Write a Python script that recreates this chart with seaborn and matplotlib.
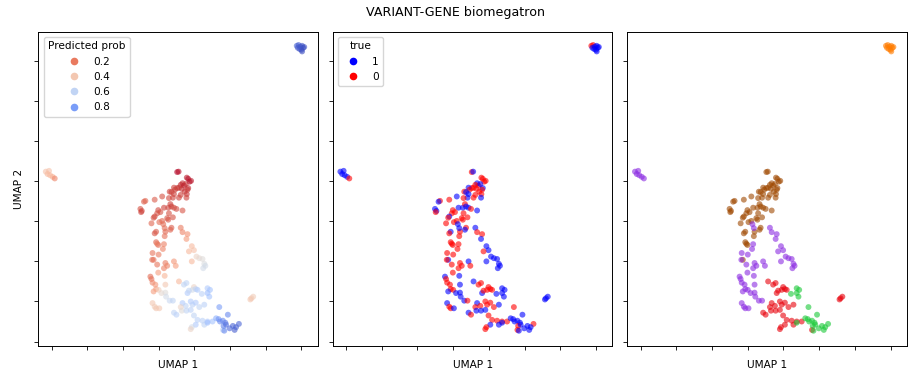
import matplotlib
matplotlib.use("Agg")
import matplotlib.pyplot as plt
import seaborn as sns
import pandas as pd

# ---- data: (umap1, umap2, predicted prob, true label) per cluster ----
cluster_brown = [
    (3.52, 4.23, 0.03, 0), (3.56, 4.24, 0.04, 1), (3.79, 4.09, 0.05, 0), (3.83, 4.06, 0.04, 0),
    (3.87, 3.99, 0.03, 0), (3.91, 4.01, 0.05, 0), (3.67, 3.95, 0.07, 1), (3.62, 3.91, 0.06, 0),
    (3.71, 3.89, 0.05, 0), (3.76, 3.93, 0.07, 1), (3.83, 3.83, 0.06, 1), (3.81, 3.79, 0.08, 0),
    (3.73, 3.74, 0.08, 0), (3.79, 3.68, 0.08, 0), (3.78, 3.59, 0.10, 1), (3.65, 3.81, 0.07, 0),
    (3.57, 3.84, 0.08, 0), (3.52, 3.83, 0.08, 0), (3.43, 3.84, 0.09, 1), (3.46, 3.79, 0.09, 0),
    (3.31, 3.74, 0.10, 0), (3.36, 3.73, 0.09, 1), (3.43, 3.68, 0.10, 1), (3.62, 3.66, 0.09, 0),
    (3.57, 3.59, 0.10, 0), (3.40, 3.59, 0.10, 1), (3.29, 3.58, 0.11, 0), (3.10, 3.62, 0.12, 1),
    (2.89, 3.54, 0.14, 0), (2.63, 3.51, 0.16, 0), (2.59, 3.49, 0.15, 1), (2.49, 3.31, 0.12, 1),
    (2.53, 3.26, 0.11, 1), (2.51, 3.23, 0.10, 0), (2.99, 3.28, 0.11, 0), (3.15, 3.34, 0.10, 1),
    (3.27, 3.34, 0.10, 1), (3.33, 3.43, 0.10, 0), (3.36, 3.37, 0.09, 1), (3.43, 3.34, 0.11, 1),
    (3.50, 3.31, 0.11, 0), (3.67, 3.27, 0.13, 1), (3.05, 3.23, 0.12, 0), (2.96, 3.20, 0.13, 0),
    (2.89, 3.12, 0.11, 1), (2.86, 3.09, 0.12, 0), (3.29, 3.20, 0.12, 0), (3.40, 3.10, 0.12, 0),
    (3.24, 3.08, 0.13, 0), (3.27, 3.04, 0.13, 0), (3.10, 3.01, 0.16, 0), (3.02, 2.98, 0.17, 0),
    (2.80, 2.95, 0.16, 0), (3.36, 2.84, 0.14, 0), (3.33, 2.79, 0.15, 1), (3.19, 2.74, 0.16, 0),
    (2.93, 2.74, 0.14, 1), (2.89, 2.70, 0.13, 0), (3.17, 2.63, 0.18, 0), (2.93, 2.48, 0.16, 0),
    (2.99, 2.41, 0.18, 0), (2.96, 2.44, 0.20, 0), (2.86, 2.04, 0.18, 1),
]
cluster_purple = [
    (3.13, 2.93, 0.17, 1), (3.17, 2.83, 0.17, 1), (3.62, 2.84, 0.20, 1), (3.67, 2.73, 0.22, 0),
    (3.81, 2.68, 0.25, 0), (3.78, 2.56, 0.27, 1), (3.93, 2.38, 0.36, 1), (3.99, 2.28, 0.38, 1),
    (3.15, 2.43, 0.21, 0), (3.12, 2.31, 0.22, 0), (2.83, 2.21, 0.19, 0), (3.00, 2.17, 0.20, 0),
    (3.85, 2.25, 0.35, 0), (4.06, 2.12, 0.45, 1), (4.14, 2.08, 0.48, 1), (4.23, 2.06, 0.50, 1),
    (4.28, 1.94, 0.52, 1), (4.31, 1.89, 0.55, 1), (4.25, 1.83, 0.55, 1), (3.93, 2.00, 0.35, 1),
    (2.82, 2.04, 0.18, 0), (2.96, 1.92, 0.19, 0), (3.19, 1.96, 0.20, 0), (3.24, 1.89, 0.22, 0),
    (3.43, 2.00, 0.26, 1), (3.48, 1.89, 0.28, 0), (3.15, 1.83, 0.22, 0), (2.77, 1.62, 0.17, 1),
    (2.80, 1.56, 0.18, 0), (2.83, 1.47, 0.23, 0), (2.91, 1.42, 0.26, 0), (3.19, 1.42, 0.40, 1),
    (2.99, 1.72, 0.28, 0), (3.17, 1.64, 0.34, 1), (2.93, 1.31, 0.28, 0), (2.86, 1.25, 0.28, 1),
    (3.00, 1.29, 0.42, 0), (3.08, 1.21, 0.48, 1), (3.19, 1.22, 0.50, 1), (3.21, 1.12, 0.55, 1),
    (3.31, 1.02, 0.58, 1), (3.40, 1.02, 0.60, 0), (2.83, 0.96, 0.40, 1), (2.89, 0.87, 0.42, 0),
    (2.93, 0.83, 0.40, 0), (3.02, 0.83, 0.40, 1),
    (-0.16, 4.24, 0.38, 1), (-0.07, 4.26, 0.38, 1), (-0.11, 4.18, 0.36, 1), (-0.04, 4.15, 0.35, 1),
    (0.03, 4.11, 0.33, 1), (0.09, 4.07, 0.22, 0),
]
cluster_red = [
    (3.57, 1.50, 0.35, 1), (3.71, 1.42, 0.60, 0), (3.78, 1.46, 0.60, 0), (3.99, 1.36, 0.45, 0),
    (3.95, 1.29, 0.55, 0), (4.04, 1.31, 0.60, 0), (3.81, 1.21, 0.65, 1), (3.85, 1.27, 0.60, 0),
    (4.09, 1.29, 0.65, 0), (3.67, 0.96, 0.65, 1), (3.76, 0.89, 0.60, 0), (3.90, 1.00, 0.65, 0),
    (3.95, 0.92, 0.62, 0), (4.04, 0.97, 0.65, 0), (3.62, 0.86, 0.45, 0), (3.65, 0.77, 0.50, 1),
    (3.78, 0.77, 0.60, 1), (3.90, 0.79, 0.62, 1), (4.14, 0.86, 0.60, 0), (4.28, 0.92, 0.62, 1),
    (3.43, 0.72, 0.60, 1), (3.50, 0.67, 0.62, 0), (3.99, 0.65, 0.60, 0), (4.09, 0.54, 0.62, 0),
    (4.23, 0.52, 0.62, 0), (4.37, 0.50, 0.65, 0), (4.51, 0.50, 0.68, 0), (4.28, 0.42, 0.60, 1),
    (4.04, 0.42, 0.65, 1), (3.93, 0.36, 0.55, 0), (3.90, 0.31, 0.45, 0), (4.80, 0.29, 0.60, 0),
    (5.60, 1.08, 0.40, 1), (5.65, 1.12, 0.42, 1), (5.57, 1.05, 0.40, 1),
]
cluster_green = [
    (4.37, 1.33, 0.65, 1), (4.44, 1.29, 0.68, 1), (4.37, 1.21, 0.70, 1), (4.42, 1.12, 0.68, 1),
    (4.21, 1.19, 0.62, 1), (4.70, 0.86, 0.80, 0), (4.61, 0.58, 0.75, 1), (4.68, 0.56, 0.82, 1),
    (4.72, 0.50, 0.85, 1), (4.80, 0.52, 0.85, 1), (4.87, 0.47, 0.88, 1), (4.82, 0.39, 0.86, 0),
    (4.94, 0.67, 0.85, 1), (4.89, 0.42, 0.90, 1), (4.99, 0.33, 0.92, 1), (5.08, 0.39, 0.93, 1),
    (5.13, 0.29, 0.95, 1), (5.25, 0.44, 0.93, 0), (5.17, 0.36, 0.94, 1), (4.84, 0.27, 0.85, 1),
    (4.37, 0.47, 0.70, 1),
]
cluster_orange = [
    (6.87, 7.38, 0.93, 0), (6.92, 7.40, 0.95, 0), (6.97, 7.36, 0.96, 1), (7.02, 7.38, 0.97, 1),
    (7.05, 7.33, 0.98, 1), (6.95, 7.30, 0.96, 1), (7.00, 7.28, 0.97, 1), (7.08, 7.35, 0.98, 1),
    (6.90, 7.33, 0.96, 1), (7.02, 7.24, 0.99, 1),
]

cluster_colors = {
    "brown": "#9f4800", "purple": "#8b2be2", "red": "#e8000b",
    "green": "#1ac938", "orange": "#ff7c00",
}
true_colors = {"1": "blue", "0": "red"}

groups = {"brown": cluster_brown, "purple": cluster_purple, "red": cluster_red,
          "green": cluster_green, "orange": cluster_orange}
rows = []
for name, pts in groups.items():
    for (ux, uy, p, t) in pts:
        rows.append({"UMAP 1": ux, "UMAP 2": uy, "prob": p, "true": str(t), "cluster": name})
df = pd.DataFrame(rows)

plt.rcParams["font.size"] = 7.6
plt.rcParams["axes.linewidth"] = 0.7
plt.rcParams["xtick.major.size"] = 2.7
plt.rcParams["ytick.major.size"] = 2.7
plt.rcParams["xtick.major.width"] = 0.6
plt.rcParams["ytick.major.width"] = 0.6

fig, axes = plt.subplots(1, 3, figsize=(9.12, 3.74), dpi=100)
fig.subplots_adjust(left=0.042, right=0.9945, bottom=0.075, top=0.915, wspace=0.054)

kw = dict(x="UMAP 1", y="UMAP 2", s=18, alpha=0.6, linewidth=0)
sns.scatterplot(data=df, hue="prob", palette="coolwarm_r", ax=axes[0], **kw)
sns.move_legend(axes[0], "upper left", title="Predicted prob")

sns.scatterplot(data=df, hue="true", hue_order=["1", "0"], palette=true_colors, ax=axes[1], **kw)
sns.move_legend(axes[1], "upper left", title="true")

sns.scatterplot(data=df, hue="cluster", palette=cluster_colors, legend=False, ax=axes[2], **kw)


def tidy_legend(ax):
    leg = ax.get_legend()
    for h in leg.legend_handles:
        h.set_alpha(1)
        if hasattr(h, "set_markersize"):
            h.set_markersize(5.5)
            h.set_markeredgewidth(0)
        elif hasattr(h, "set_sizes"):
            h.set_sizes([30])
            h.set_linewidth(0)


tidy_legend(axes[0])
tidy_legend(axes[1])

for i, ax in enumerate(axes):
    ax.set_xlim(-0.37, 7.46)
    ax.set_ylim(-0.11, 7.73)
    ax.set_xticks(range(8))
    ax.set_yticks(range(8))
    ax.set_xticklabels([])
    ax.set_yticklabels([])
    ax.set_xlabel("UMAP 1")
    ax.set_ylabel("UMAP 2" if i == 0 else "")

fig.suptitle("VARIANT-GENE biomegatron", fontsize=9.1, y=0.985)
fig.savefig("out.png", dpi=100)
